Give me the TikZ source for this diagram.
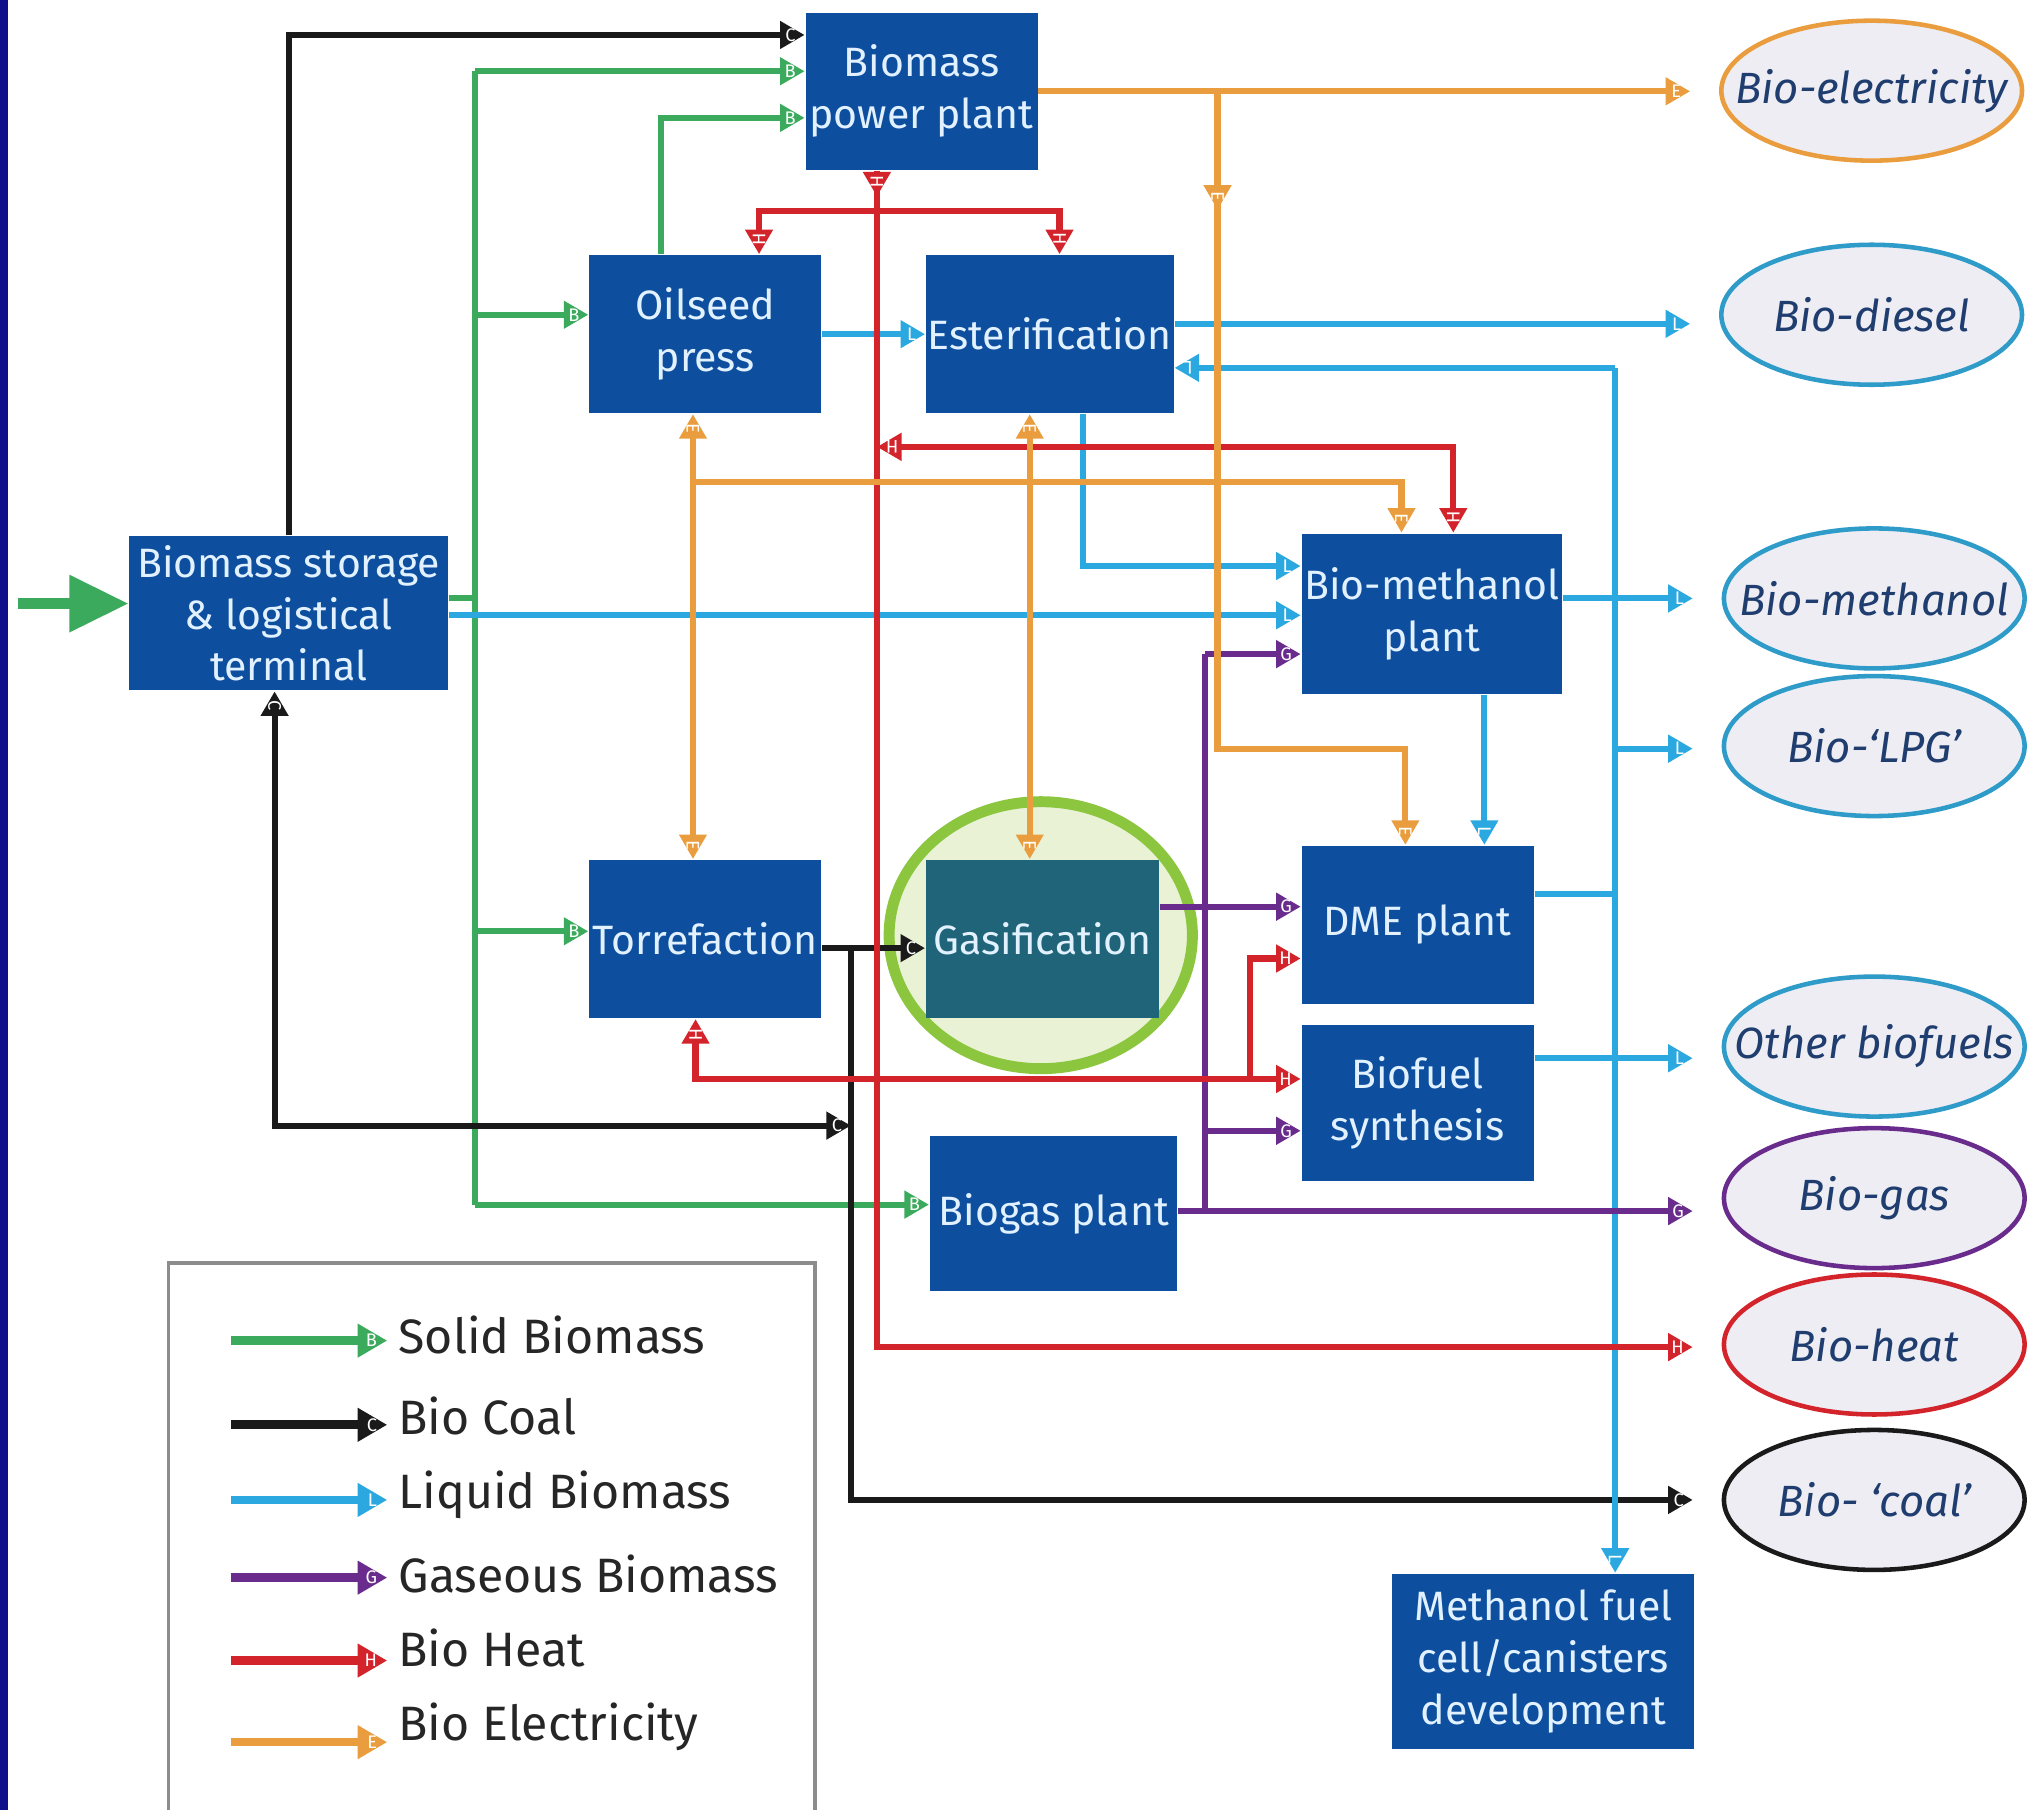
\documentclass[tikz,border=0pt]{standalone}
\usepackage{fontspec}
\newfontfamily\boxfnt{Fira Sans}
\usetikzlibrary{arrows.meta,shapes.geometric,calc,positioning}
\definecolor{boxblue}{HTML}{0D4F9E}
\definecolor{boxtext}{HTML}{E2F1FF}
\definecolor{gasteal}{HTML}{1F6478}
\definecolor{ringgreen}{HTML}{8CC63F}
\definecolor{ringfill}{HTML}{EAF2D6}
\definecolor{prodfill}{HTML}{EDEDF3}
\definecolor{prodtext}{HTML}{1F3D6E}
\definecolor{prodblue}{HTML}{2E9BC9}
\definecolor{navy}{HTML}{10108A}
\definecolor{cB}{HTML}{3BAA5C}
\definecolor{cC}{HTML}{1A1A1A}
\definecolor{cL}{HTML}{2AA8DF}
\definecolor{cG}{HTML}{6A2C8C}
\definecolor{cH}{HTML}{D3232B}
\definecolor{cE}{HTML}{E99D3E}
\tikzset{
  box/.style 2 args={rectangle,fill=boxblue,text=boxtext,font=\boxfnt\fontsize{9}{11.4}\selectfont,
    align=center,inner sep=0pt,minimum width=#1,minimum height=#2},
  prod/.style={ellipse,draw=#1,line width=1pt,fill=prodfill,minimum width=2.32cm,minimum height=1.08cm,
    inner sep=0pt,outer xsep=0.24cm,outer ysep=0pt},
  ptext/.style={font=\boxfnt\itshape\fontsize{9.6}{11}\selectfont,text=prodtext},
  wire/.style={draw=#1,line width=1.35pt},
  flow/.style={draw=#1,line width=1.35pt,-{Triangle[length=5.4pt,width=5.8pt]}},
  flow2/.style={draw=#1,line width=1.35pt,{Triangle[length=5.4pt,width=5.8pt]}-{Triangle[length=5.4pt,width=5.8pt]}},
  tipl/.style={pos=1,sloped,allow upside down,anchor=east,inner xsep=1.3pt,inner ysep=0pt,
    text=white,font=\boxfnt\fontsize{4}{4}\selectfont},
  tips/.style={pos=0,sloped,allow upside down,anchor=west,inner xsep=1.3pt,inner ysep=0pt,
    text=white,font=\boxfnt\fontsize{4}{4}\selectfont},
  legtext/.style={anchor=west,inner sep=0pt,font=\boxfnt\fontsize{10.6}{12}\selectfont,text=black!85},
}

\begin{document}
\begin{tikzpicture}[x=0.01cm,y=-0.01cm]
\useasboundingbox (0,0) rectangle (1568,1397);
\fill[white] (0,0) rectangle (1568,1397);
\fill[navy] (0,0) rectangle (6,1397);

% plants
\node[box={1.79cm}{1.21cm}] (pp) at (711.5,70.5) {Biomass\\power plant};
\node[box={1.79cm}{1.22cm}] (oil) at (544.5,258) {Oilseed\\press};
\node[box={1.91cm}{1.22cm}] (est) at (810.5,258) {Esterification};
\node[box={2.46cm}{1.19cm}] (store) at (223,473.5) {Biomass storage\\\& logistical\\terminal};
\node[box={2.01cm}{1.24cm}] (bmp) at (1105.5,474) {Bio-methanol\\plant};
\node[box={1.79cm}{1.22cm}] (torr) at (544.5,725) {Torrefaction};
\fill[ringfill,draw=ringgreen,line width=2.4pt] (803.5,722) ellipse [x radius=1.17cm,y radius=1.03cm];
\node[box={1.80cm}{1.22cm},fill=gasteal] (gas) at (805,725) {Gasification};
\node[box={1.79cm}{1.22cm}] (dme) at (1094.5,714) {DME plant};
\node[box={1.79cm}{1.21cm}] (bfs) at (1094.5,851.5) {Biofuel\\synthesis};
\node[box={1.91cm}{1.20cm}] (bgp) at (813.5,937) {Biogas plant};
\node[box={2.33cm}{1.35cm}] (mfc) at (1191.5,1282.5) {Methanol fuel\\cell/canisters\\development};

% products
\node[prod=cE,label={[ptext]center:Bio-electricity}] (bel) at (1445,70) {};
\node[prod=prodblue,label={[ptext]center:Bio-diesel}] (bdi) at (1445,243) {};
\node[prod=prodblue,label={[ptext]center:Bio-methanol}] (bme) at (1447,462) {};
\node[prod=prodblue,label={[ptext]center:Bio-‘LPG’}] (lpg) at (1447,576) {};
\node[prod=prodblue,label={[ptext]center:Other biofuels}] (obf) at (1447,808) {};
\node[prod=cG,label={[ptext]center:Bio-gas}] (bga) at (1447,925) {};
\node[prod=cH,label={[ptext]center:Bio-heat}] (bhe) at (1447,1038) {};
\node[prod=cC,label={[ptext]center:Bio- ‘coal’}] (bco) at (1447,1158) {};

% junctions
\coordinate (feed) at (14,466);
\coordinate (gTop) at (367,55);
\coordinate (gOil) at (367,243);
\coordinate (gTor) at (367,719);
\coordinate (gBgp) at (367,930);
\coordinate (kUp) at (657,732);
\coordinate (kLow) at (657,869);
\coordinate (lTop) at (1247,284);
\coordinate (lLpg) at (1247,578);
\coordinate (lDme) at (1247,690);
\coordinate (pTop) at (930,505);
\coordinate (pBfs) at (930,873);
\coordinate (pBot) at (930,935);
\coordinate (hBus) at (677,0 |- pp.south);
\coordinate (hHi) at (818,163);
\coordinate (hMid) at (677,345);
\coordinate (hLow) at (965,833);
\coordinate (eTop) at (940,70);
\coordinate (eMid) at (535,372);

% solid biomass
\draw[cB,line width=2.4pt,-{Triangle[length=13pt,width=12pt]}] (feed) -- (feed -| store.west);
\draw[wire=cB] (gTop) -- (gBgp) (store.east |- 0,462) -- (gTop |- 0,462);
\foreach \p/\n in {gTop/pp,gOil/oil,gTor/torr,gBgp/bgp}{\draw[flow=cB] (\p) -- (\p -| \n.west) node[tipl]{B};}
\draw[flow=cB] (510,0 |- oil.north) |- (pp.west |- 0,91) node[tipl]{B};

% bio coal
\draw[flow=cC] (store.north) |- (pp.west |- 0,27) node[tipl]{C};
\draw[flow2=cC] (212,0 |- store.south) |- node[tips]{C} (kLow) node[tipl]{C};
\draw[flow=cC] (torr.east |- kUp) -- (gas.west |- kUp) node[tipl]{C};
\draw[flow=cC] (kUp) |- (bco.west) node[tipl]{C};

% liquid biomass
\draw[flow=cL] (oil.east) -- (est.west) node[tipl]{L};
\draw[flow=cL] (est.east |- 0,250) -- (bdi.west |- 0,250) node[tipl]{L};
\draw[flow=cL] (lTop) -- (lTop -| est.east) node[tipl]{L};
\draw[flow=cL] (lTop) -- (lTop |- mfc.north) node[tipl]{L};
\draw[flow=cL] (lLpg) -- (lLpg -| lpg.west) node[tipl]{L};
\draw[wire=cL] (dme.east |- lDme) -- (lDme);
\draw[flow=cL] (bmp.east |- bme.west) -- (bme.west) node[tipl]{L};
\draw[flow=cL] (bfs.east |- 0,817) -- (obf.west |- 0,817) node[tipl]{L};
\draw[flow=cL] (836,0 |- est.south) |- (bmp.west |- 0,437) node[tipl]{L};
\draw[flow=cL] (store.east |- 0,475) -- (bmp.west |- 0,475) node[tipl]{L};
\draw[flow=cL] (1146,0 |- bmp.south) -- (1146,0 |- dme.north) node[tipl]{L};

% gaseous biomass
\draw[wire=cG] (pTop) -- (pBot);
\draw[flow=cG] (pTop) -- (pTop -| bmp.west) node[tipl]{G};
\draw[flow=cG] (gas.east |- 0,700) -- (dme.west |- 0,700) node[tipl]{G};
\draw[flow=cG] (pBfs) -- (pBfs -| bfs.west) node[tipl]{G};
\draw[flow=cG] (bgp.east |- pBot) -- (bga.west |- pBot) node[tipl]{G};

% bio heat
\draw[flow=cH] (hBus) |- (bhe.west |- 0,1040) node[tipl]{H};
\draw[flow=cH] (hBus) -- ++(0,20) node[tipl]{H};
\draw[flow2=cH] (586,0 |- oil.north) |- node[tips]{H} (hHi) -- (hHi |- est.north) node[tipl]{H};
\draw[flow2=cH] (1122,0 |- bmp.north) |- node[tips]{H} (hMid) node[tipl]{H};
\draw[flow2=cH] (537,0 |- torr.south) |- node[tips]{H} (bfs.west |- hLow) node[tipl]{H};
\draw[flow=cH] (hLow) |- (dme.west |- 0,740) node[tipl]{H};

% bio electricity
\draw[flow=cE] (pp.east) -- (pp.east -| bel.west) node[tipl]{E};
\draw[flow=cE] (eTop) |- (1085,0 |- lLpg) -- (1085,0 |- dme.north) node[tipl]{E};
\draw[flow=cE] (eTop) -- ++(0,92) node[tipl]{E};
\draw[flow2=cE] (535,0 |- oil.south) -- (535,0 |- torr.north) node[tips]{E} node[tipl]{E};
\draw[flow=cE] (eMid) -| (1082,0 |- bmp.north) node[tipl]{E};
\draw[flow2=cE] (795,0 |- est.south) -- (795,0 |- gas.north) node[tips]{E} node[tipl]{E};

% legend
\draw[black!45,line width=0.8pt] (130,975) rectangle (629,1420);
\foreach \c/\l/\t/\y/\ty [count=\i] in {cB/B/Solid Biomass/1035/1031,cC/C/Bio Coal/1100/1093,
  cL/L/Liquid Biomass/1158/1154,cG/G/Gaseous Biomass/1218/1215,cH/H/Bio Heat/1282/1272,cE/E/Bio Electricity/1345/1333}{
  \node[legtext] (leg\i) at (307,\ty) {\t};
  \draw[flow=\c,line width=1.9pt,-{Triangle[length=6.5pt,width=7pt]}] (178,\y) -- (299,\y) node[tipl]{\l};
}
\end{tikzpicture}
\end{document}
